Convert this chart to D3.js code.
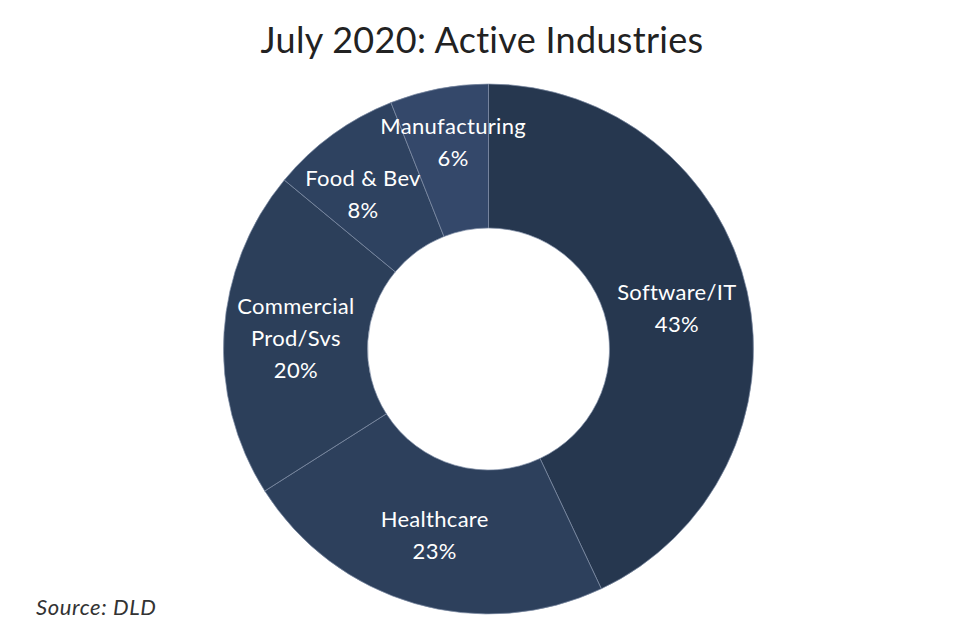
<!DOCTYPE html>
<html>
<head>
<meta charset="utf-8">
<script src="https://cdn.jsdelivr.net/npm/d3@7"></script>
<style>
  html, body { margin: 0; padding: 0; background: #fff; }
  svg { display: block; }
  text { font-family: Lato, "Open Sans", sans-serif; }
</style>
</head>
<body>
<svg id="chart" width="968" height="642"></svg>
<script>
const title = "July 2020: Active Industries";
const source = "Source: DLD";
const categories = ["Software/IT", "Healthcare", "Commercial\nProd/Svs", "Food & Bev", "Manufacturing"];
const values = [43, 23, 20, 8, 6];
const colors = ["#26374f", "#2d405c", "#2c3f5a", "#2e4260", "#34486a"];

const W = 968, H = 642;
const cx = 488.5, cy = 349;
const outerR = 265, innerR = 121;

const svg = d3.select("#chart");

svg.append("text")
  .attr("x", 482).attr("y", 53)
  .attr("text-anchor", "middle")
  .attr("fill", "#222")
  .style("font-size", "36px")
  .style("letter-spacing", "0.3px")
  .text(title);

svg.append("text")
  .attr("x", 36).attr("y", 615)
  .attr("fill", "#333")
  .style("font-size", "22px")
  .style("font-style", "italic")
  .style("letter-spacing", "0.6px")
  .text(source);

const data = categories.map((c, i) => ({ name: c, value: values[i], color: colors[i] }));

const pie = d3.pie().sort(null).value(d => d.value);
const arcs = pie(data);

const arc = d3.arc().innerRadius(innerR).outerRadius(outerR);
const midR = (innerR + outerR) / 2;

function labelPos(d) {
  // small slices get their labels pushed outward, like the original
  const extra = d.data.value < 7 ? 18 : d.data.value < 10 ? 7 : 0;
  const shift = d.data.value < 7 ? 0.02 : d.data.value < 10 ? -0.05 : 0;
  const r = midR + extra;
  const a = (d.startAngle + d.endAngle) / 2 + shift;
  return [r * Math.sin(a), -r * Math.cos(a)];
}

const g = svg.append("g").attr("transform", `translate(${cx},${cy})`);

g.selectAll("path.slice")
  .data(arcs)
  .enter().append("path")
  .attr("class", "slice")
  .attr("d", arc)
  .attr("fill", d => d.data.color)
  .attr("stroke", "#7f8ea6")
  .attr("stroke-width", 0.7);

const lineH = 32;
const labels = g.selectAll("g.label")
  .data(arcs)
  .enter().append("g")
  .attr("class", "label")
  .attr("transform", d => {
    const c = labelPos(d);
    return `translate(${c[0]},${c[1]})`;
  });

labels.each(function(d) {
  const lines = d.data.name.split("\n").concat([d.data.value + "%"]);
  const n = lines.length;
  const sel = d3.select(this);
  lines.forEach((ln, i) => {
    sel.append("text")
      .attr("x", 0)
      .attr("y", (i - (n - 1) / 2) * lineH + 9)
      .attr("text-anchor", "middle")
      .attr("fill", "#fff")
      .style("font-size", "22px")
      .style("letter-spacing", "0.3px")
      .text(ln);
  });
});
</script>
</body>
</html>
